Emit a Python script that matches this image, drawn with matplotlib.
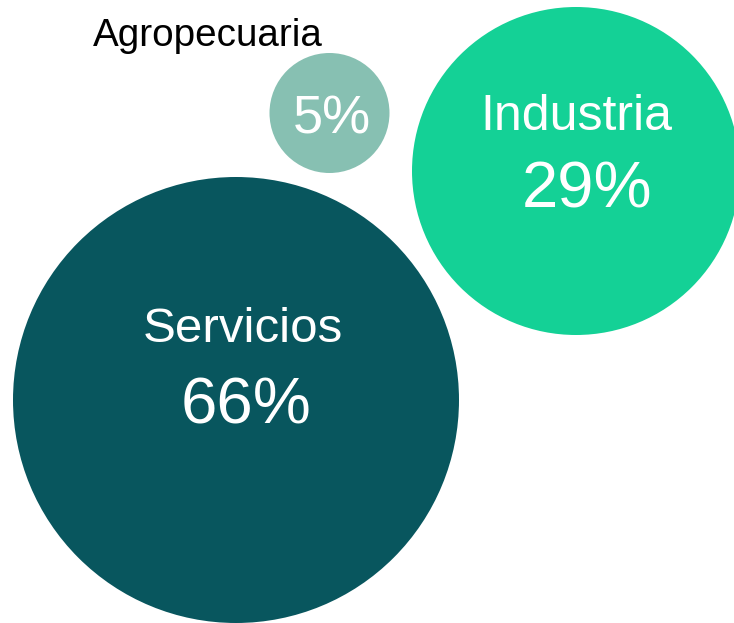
import matplotlib.pyplot as plt
from matplotlib.patches import Circle

# data
sectors = ['Servicios', 'Industria', 'Agropecuaria']
shares = [66, 29, 5]
colors = ['#08565E', '#14D196', '#87C0B2']

# layout (pixel space of the original picture)
centers = [(236, 400), (576, 171), (329.5, 113)]
radii = [223, 164, 60]

W, H = 734, 623
fig = plt.figure(figsize=(W / 100, H / 100), dpi=100)
ax = fig.add_axes([0, 0, 1, 1])
ax.set_xlim(0, W)
ax.set_ylim(H, 0)
ax.set_aspect('equal')
ax.axis('off')

for (cx, cy), r, c in zip(centers, radii, colors):
    ax.add_patch(Circle((cx, cy), r, color=c, lw=0))

font = 'Liberation Sans'
# Servicios
ax.text(242.5, 342, sectors[0], color='white', fontsize=35.5, ha='center',
        va='baseline', family=font)
ax.text(246, 423, f'{shares[0]}%', color='white', fontsize=47, ha='center',
        va='baseline', family=font)
# Industria
ax.text(576.5, 130, sectors[1], color='white', fontsize=36, ha='center',
        va='baseline', family=font)
ax.text(587, 207, f'{shares[1]}%', color='white', fontsize=47, ha='center',
        va='baseline', family=font)
# Agropecuaria
ax.text(331.5, 133, f'{shares[2]}%', color='white', fontsize=39, ha='center',
        va='baseline', family=font)
ax.text(208, 46, sectors[2], color='black', fontsize=27.8, ha='center',
        va='baseline', family=font)

fig.savefig('out.png', dpi=100)
